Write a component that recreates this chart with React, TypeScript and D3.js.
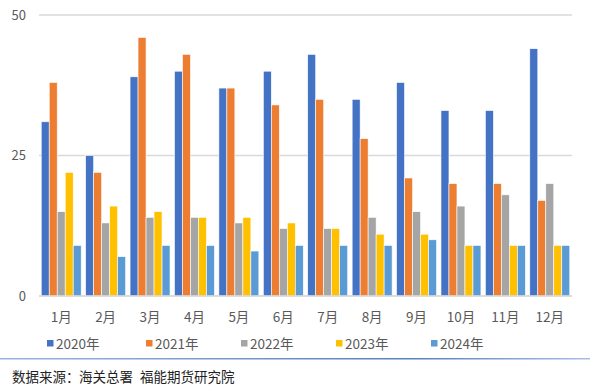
import React from "react";
import * as d3 from "d3";

const months = ["1月", "2月", "3月", "4月", "5月", "6月", "7月", "8月", "9月", "10月", "11月", "12月"];
const seriesNames = ["2020年", "2021年", "2022年", "2023年", "2024年"];
const colors = ["#4472C4", "#ED7D31", "#A5A5A5", "#FFC000", "#5B9BD5"];
const v2020 = [31, 25, 39, 40, 37, 40, 43, 35, 38, 33, 33, 44];
const v2021 = [38, 22, 46, 43, 37, 34, 35, 28, 21, 20, 20, 17];
const v2022 = [15, 13, 14, 14, 13, 12, 12, 14, 15, 16, 18, 20];
const v2023 = [22, 16, 15, 14, 14, 13, 12, 11, 11, 9, 9, 9];
const v2024 = [9, 7, 9, 9, 8, 9, 9, 9, 10, 9, 9, 9];
const yTicks = [0, 25, 50];
const sourceParts = ["数据来源：", "海关总署", "福能期货研究院"];

const series = [v2020, v2021, v2022, v2023, v2024];

export default function App() {
  const W = 590, H = 392;
  const left = 39, right = 572, top = 15, bottom = 296;
  const x = d3.scaleBand<string>().domain(months).range([left, right]).paddingInner(0.1).paddingOuter(0.05);
  const xs = d3.scaleBand<string>().domain(seriesNames).range([0, x.bandwidth()]).padding(0);
  const y = d3.scaleLinear().domain([0, 50]).range([bottom, top]);
  const font = "'Microsoft YaHei', 'Noto Sans CJK SC', sans-serif";
  const legendX = [47, 146, 241, 336, 431];
  const sourceX = [12, 79, 140];
  return (
    <svg width={W} height={H} style={{ position: "absolute", left: 0, top: 0, background: "#fff" }}>
      <defs>
        <linearGradient id="sep" x1="0" x2="1" y1="0" y2="0">
          <stop offset="0" stopColor="#9db3dc" />
          <stop offset="0.7" stopColor="#5b7fc4" />
          <stop offset="1" stopColor="#a9bde3" />
        </linearGradient>
      </defs>
      <rect x={0} y={0} width={W} height={H} fill="#fff" />
      {yTicks.map((t) => (
        <g key={t}>
          <line x1={left} x2={right} y1={y(t)} y2={y(t)} stroke="#d9d9d9" strokeWidth={1.5} />
          <text x={26} y={y(t)} dy="0.35em" textAnchor="end" fontSize={13} fill="#595959" fontFamily={font}>{t}</text>
        </g>
      ))}
      {months.map((m, i) => (
        <g key={m}>
          {series.map((s, j) => (
            <rect
              key={j}
              x={(x(m) as number) + (xs(seriesNames[j]) as number)}
              y={y(s[i])}
              width={xs.bandwidth()}
              height={y(0) - y(s[i])}
              fill={colors[j]}
              stroke="#fff"
              strokeWidth={0.6}
            />
          ))}
          <text x={(x(m) as number) + x.bandwidth() / 2} y={317} dy="0.35em" textAnchor="middle" fontSize={13.5} fill="#595959" fontFamily={font}>{m}</text>
        </g>
      ))}
      <line x1={left} x2={right} y1={y(0)} y2={y(0)} stroke="#d9d9d9" strokeWidth={1.5} />
      {seriesNames.map((n, j) => (
        <g key={n}>
          <rect x={legendX[j]} y={340} width={6.5} height={6.5} fill={colors[j]} />
          <text x={legendX[j] + 9} y={344} dy="0.35em" fontSize={13.5} fill="#595959" fontFamily={font}>{n}</text>
        </g>
      ))}
      <rect x={0} y={358} width={W} height={1.5} fill="url(#sep)" />
      <text y={377} dy="0.35em" fontSize={13.5} fill="#222" fontFamily={font}>
        {sourceParts.map((p, k) => (
          <tspan key={k} x={sourceX[k]}>{p}</tspan>
        ))}
      </text>
    </svg>
  );
}
